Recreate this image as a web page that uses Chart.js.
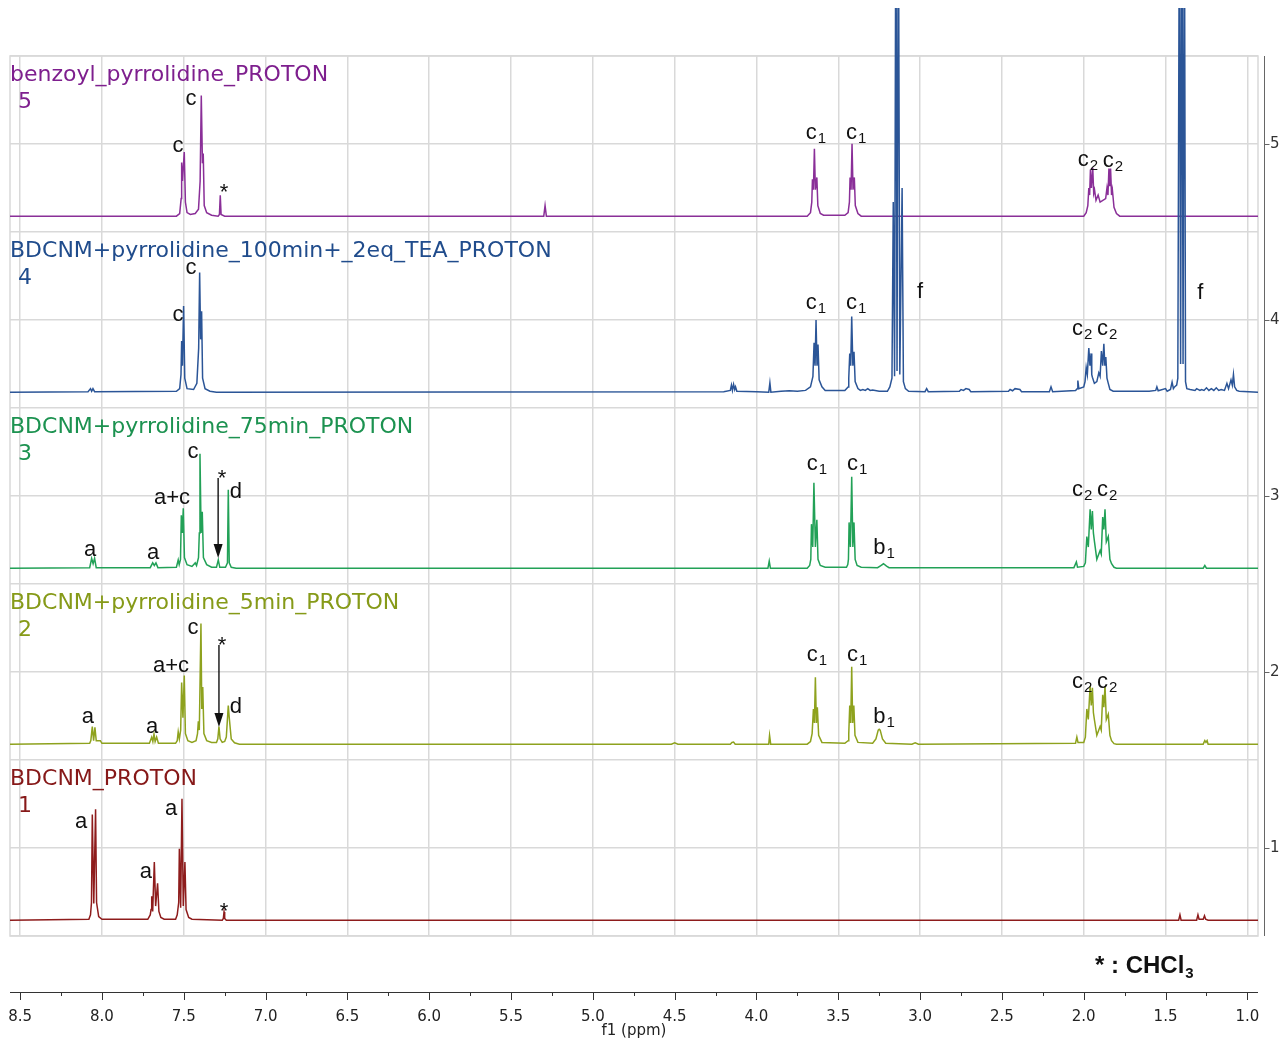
<!DOCTYPE html>
<html>
<head>
<meta charset="utf-8">
<script src="https://cdn.jsdelivr.net/npm/chart.js@4.4.1/dist/chart.umd.min.js"></script>
<style>
  html, body { margin: 0; padding: 0; background: #fff; }
  #wrap { width: 1285px; height: 1040px; }
</style>
</head>
<body>
<div id="wrap"><canvas id="nmr" width="1285" height="1040"></canvas></div>
<script>
// spectrum traces: [ppm, intensity above the spectrum's own baseline]
const spec1 = [[8.562,0],[8.080,0.005],[8.070,0.03],[8.064,0.1],[8.059,0.6],[8.050,0.095],[8.039,0.63],[8.033,0.1],[8.020,0.02],[8.000,0.005],
  [7.720,0.005],[7.705,0.03],[7.700,0.06],[7.696,0.136],[7.690,0.05],[7.680,0.33],[7.672,0.08],[7.660,0.21],[7.652,0.05],[7.640,0.015],[7.620,0.005],
  [7.550,0.005],[7.540,0.03],[7.531,0.1],[7.527,0.405],[7.519,0.07],[7.511,0.69],[7.503,0.08],[7.493,0.33],[7.486,0.06],[7.470,0.015],[7.450,0.005],
  [7.265,0],[7.258,0.01],[7.254,0.047],[7.250,0.01],[7.240,0],
  [1.420,0],[1.412,0.03],[1.405,0],[1.310,0],[1.302,0.03],[1.295,0.005],[1.270,0.005],[1.262,0.025],[1.255,0.005],[1.240,0],[0.935,0]];

const spec2 = [[8.562,0],[8.075,0.005],[8.068,0.02],[8.059,0.1],[8.051,0.02],[8.043,0.095],[8.035,0.02],[8.010,0.02],[8.000,0.005],
  [7.710,0.005],[7.696,0.04],[7.689,0.015],[7.682,0.057],[7.675,0.015],[7.666,0.04],[7.655,0.005],
  [7.550,0.005],[7.540,0.02],[7.534,0.07],[7.527,0.03],[7.519,0.08],[7.513,0.35],[7.505,0.15],[7.497,0.39],[7.490,0.06],[7.475,0.02],[7.450,0.01],
  [7.425,0.02],[7.416,0.06],[7.411,0.13],[7.405,0.08],[7.395,0.686],[7.390,0.2],[7.384,0.325],[7.377,0.06],[7.360,0.02],[7.330,0.01],[7.300,0.01],
  [7.292,0.03],[7.285,0.1],[7.278,0.03],[7.265,0.01],[7.250,0.015],[7.240,0.04],[7.232,0.16],[7.228,0.22],[7.222,0.15],[7.210,0.03],[7.190,0.008],[7.160,0],
  [4.520,0],[4.500,0.008],[4.480,0],[4.160,0],[4.150,0.01],[4.140,0.012],[4.130,0],[3.925,0],[3.920,0.05],[3.913,0],
  [3.690,0],[3.670,0.015],[3.660,0.06],[3.652,0.2],[3.646,0.12],[3.640,0.38],[3.634,0.12],[3.628,0.21],[3.620,0.05],[3.600,0.01],
  [3.460,0.005],[3.440,0.02],[3.436,0.06],[3.430,0.22],[3.424,0.12],[3.418,0.44],[3.412,0.12],[3.405,0.22],[3.398,0.05],[3.380,0.01],
  [3.290,0.005],[3.270,0.03],[3.256,0.08],[3.250,0.085],[3.244,0.08],[3.230,0.03],[3.210,0.005],
  [3.050,0],[3.030,0.008],[3.010,0],
  [2.050,0.005],[2.042,0.04],[2.035,0.01],[2.000,0.01],[1.990,0.04],[1.981,0.2],[1.972,0.14],[1.961,0.33],[1.954,0.22],[1.947,0.32],[1.941,0.18],
  [1.935,0.14],[1.920,0.05],[1.900,0.1],[1.893,0.08],[1.884,0.28],[1.877,0.21],[1.870,0.33],[1.862,0.14],[1.850,0.17],[1.840,0.05],[1.830,0.02],
  [1.815,0.003],[1.800,0],[1.270,0],[1.260,0.02],[1.253,0.01],[1.246,0.02],[1.240,0],[0.935,0]];

const spec3 = [[8.562,0],[8.075,0.003],[8.063,0.055],[8.054,0.025],[8.045,0.055],[8.035,0.003],
  [7.705,0.003],[7.690,0.03],[7.680,0.015],[7.670,0.03],[7.658,0.003],
  [7.545,0.005],[7.534,0.047],[7.528,0.02],[7.520,0.05],[7.515,0.30],[7.509,0.2],[7.503,0.34],[7.496,0.06],[7.480,0.02],[7.450,0.01],
  [7.430,0.03],[7.422,0.015],[7.410,0.06],[7.405,0.2],[7.401,0.65],[7.394,0.2],[7.387,0.32],[7.380,0.06],[7.360,0.02],[7.330,0.005],
  [7.300,0.005],[7.289,0.047],[7.280,0.005],[7.245,0.005],[7.233,0.03],[7.228,0.445],[7.222,0.03],[7.210,0.005],[7.180,0],
  [3.930,0],[3.922,0.04],[3.915,0],
  [3.690,0],[3.675,0.015],[3.668,0.05],[3.664,0.25],[3.656,0.12],[3.649,0.485],[3.640,0.12],[3.631,0.275],[3.624,0.05],[3.610,0.015],[3.580,0.005],
  [3.450,0.005],[3.442,0.02],[3.438,0.05],[3.434,0.26],[3.426,0.12],[3.418,0.52],[3.411,0.12],[3.404,0.26],[3.397,0.05],[3.385,0.015],[3.360,0.005],
  [3.260,0.003],[3.240,0.015],[3.224,0.025],[3.205,0.012],[3.190,0.003],
  [2.060,0.003],[2.045,0.035],[2.038,0.005],[2.000,0.01],[1.990,0.03],[1.981,0.18],[1.972,0.12],[1.961,0.335],[1.954,0.22],[1.947,0.325],
  [1.941,0.2],[1.935,0.155],[1.920,0.05],[1.900,0.1],[1.893,0.08],[1.884,0.29],[1.877,0.22],[1.870,0.335],[1.862,0.15],[1.850,0.18],
  [1.840,0.05],[1.830,0.025],[1.815,0.005],[1.800,0],[1.270,0],[1.260,0.015],[1.250,0],[0.935,0]];

const spec4 = [[8.562,0],[8.085,0.003],[8.070,0.02],[8.063,0.005],[8.055,0.02],[8.045,0.003],
  [7.545,0.005],[7.525,0.02],[7.517,0.1],[7.513,0.29],[7.508,0.15],[7.501,0.49],[7.494,0.08],[7.480,0.02],[7.440,0.015],
  [7.420,0.05],[7.409,0.25],[7.403,0.68],[7.397,0.3],[7.391,0.46],[7.385,0.08],[7.370,0.02],[7.340,0.005],[7.300,0],
  [4.200,0.003],[4.160,0.01],[4.153,0.04],[4.147,0.01],[4.140,0.044],[4.133,0.015],[4.128,0.03],[4.120,0.005],[4.000,0.003],
  [3.925,0],[3.918,0.053],[3.912,0],[3.850,0.005],[3.800,0.008],[3.750,0.005],[3.700,0.01],[3.670,0.03],
  [3.655,0.09],[3.648,0.28],[3.642,0.15],[3.636,0.41],[3.630,0.15],[3.624,0.27],[3.617,0.07],[3.600,0.03],[3.580,0.01],
  [3.460,0.01],[3.440,0.03],[3.436,0.08],[3.430,0.22],[3.424,0.15],[3.418,0.43],[3.411,0.15],[3.404,0.23],[3.397,0.06],[3.380,0.02],
  [3.365,0.01],[3.350,0.015],[3.335,0.01],[3.320,0.02],[3.305,0.01],[3.290,0.012],[3.250,0.005],
  [3.200,0.005],[3.185,0.03],[3.172,0.08],[3.164,1.08],[3.156,0.09],[3.148,3.0],[3.141,0.12],[3.133,3.0],[3.124,0.1],[3.110,1.16],
  [3.102,0.06],[3.090,0.02],[3.070,0.005],
  [2.970,0.003],[2.960,0.02],[2.950,0.003],[2.760,0.005],[2.750,0.015],[2.735,0.01],[2.720,0.02],[2.700,0.015],[2.690,0.003],
  [2.460,0.005],[2.450,0.015],[2.435,0.008],[2.420,0.02],[2.390,0.015],[2.380,0.003],[2.210,0.003],[2.200,0.03],[2.190,0.003],
  [2.050,0.01],[2.040,0.02],[2.036,0.066],[2.030,0.02],[2.000,0.03],[1.992,0.06],[1.985,0.14],[1.978,0.1],[1.969,0.25],[1.962,0.15],
  [1.955,0.22],[1.951,0.1],[1.947,0.085],[1.935,0.05],[1.920,0.06],[1.908,0.11],[1.900,0.09],[1.892,0.233],[1.884,0.15],[1.877,0.275],
  [1.871,0.15],[1.865,0.2],[1.858,0.08],[1.850,0.05],[1.840,0.015],[1.820,0.005],
  [1.600,0.005],[1.560,0.01],[1.553,0.03],[1.545,0.008],[1.500,0.02],[1.490,0.005],[1.470,0.015],[1.460,0.057],[1.452,0.02],
  [1.445,0.03],[1.432,0.04],[1.425,0.08],[1.415,3.0],[1.408,0.16],[1.400,3.0],[1.393,0.16],[1.385,3.0],[1.378,0.06],[1.370,0.02],
  [1.350,0.015],[1.320,0.01],[1.310,0.02],[1.290,0.01],[1.280,0.015],[1.265,0.01],[1.250,0.025],[1.235,0.01],[1.220,0.02],
  [1.205,0.01],[1.190,0.025],[1.175,0.01],[1.160,0.015],[1.140,0.01],[1.125,0.05],[1.115,0.02],[1.100,0.07],[1.092,0.04],
  [1.085,0.1],[1.078,0.03],[1.065,0.01],[1.050,0.005],[0.935,0]];

const spec5 = [[8.562,0],[7.545,0],[7.525,0.015],[7.516,0.1],[7.513,0.305],[7.508,0.2],[7.497,0.364],[7.490,0.08],[7.480,0.02],
  [7.460,0.01],[7.430,0.015],[7.410,0.04],[7.400,0.2],[7.393,0.686],[7.386,0.3],[7.381,0.356],[7.375,0.06],[7.360,0.02],[7.330,0.005],
  [7.290,0],[7.282,0.01],[7.277,0.118],[7.272,0.01],[7.250,0],[5.300,0],[5.292,0.06],[5.284,0],
  [3.690,0],[3.670,0.02],[3.662,0.08],[3.658,0.21],[3.652,0.15],[3.646,0.383],[3.640,0.15],[3.631,0.22],[3.625,0.06],[3.610,0.015],[3.590,0.005],
  [3.460,0.005],[3.440,0.02],[3.432,0.08],[3.428,0.22],[3.422,0.15],[3.416,0.411],[3.410,0.15],[3.402,0.22],[3.396,0.06],[3.380,0.015],[3.360,0],
  [2.000,0],[1.985,0.02],[1.975,0.06],[1.969,0.16],[1.964,0.12],[1.959,0.265],[1.953,0.16],[1.945,0.275],[1.939,0.13],[1.934,0.15],
  [1.925,0.09],[1.912,0.12],[1.900,0.08],[1.866,0.1],[1.858,0.16],[1.852,0.12],[1.846,0.27],[1.841,0.17],[1.836,0.27],[1.830,0.12],
  [1.825,0.15],[1.815,0.05],[1.800,0.015],[1.780,0],[0.935,0]];

const spectra = [spec1, spec2, spec3, spec4, spec5];
const specNames = ['BDCNM_PROTON', 'BDCNM+pyrrolidine_5min_PROTON', 'BDCNM+pyrrolidine_75min_PROTON',
  'BDCNM+pyrrolidine_100min+_2eq_TEA_PROTON', 'benzoyl_pyrrolidine_PROTON'];
const baselines = [0.59, 1.59, 2.59, 3.59, 4.59];
const lineColors = ['#8e1c1c', '#8ea21e', '#22a157', '#2b5597', '#8a2f98'];
const textColors = ['#861818', '#869a18', '#1c9250', '#204c8c', '#7e1f8e'];

// peak assignments: [text, subscript, ppm, intensity axis value]
const peakLabels = [
  ['c', '', 7.535, 4.989], ['c', '', 7.456, 5.256], ['*', '', 7.254, 4.756],
  ['c', '1', 3.636, 5.063], ['c', '1', 3.391, 5.063], ['c', '2', 1.974, 4.909], ['c', '2', 1.822, 4.903],
  ['c', '', 7.535, 4.028], ['c', '', 7.456, 4.295], ['c', '1', 3.636, 4.097], ['c', '1', 3.391, 4.097],
  ['f', '', 3.000, 4.159], ['f', '', 1.288, 4.153], ['c', '2', 2.010, 3.949], ['c', '2', 1.857, 3.949],
  ['a', '', 8.073, 2.693], ['a', '', 7.688, 2.676], ['a+c', '', 7.572, 2.989], ['c', '', 7.444, 3.25],
  ['*', '', 7.266, 3.131], ['d', '', 7.181, 3.023], ['c', '1', 3.630, 3.182], ['c', '1', 3.385, 3.182],
  ['b', '1', 3.220, 2.705], ['c', '2', 2.010, 3.034], ['c', '2', 1.857, 3.034],
  ['a', '', 8.086, 1.744], ['a', '', 7.694, 1.688], ['a+c', '', 7.578, 2.034], ['c', '', 7.444, 2.25],
  ['*', '', 7.266, 2.182], ['d', '', 7.181, 1.801], ['c', '1', 3.630, 2.097], ['c', '1', 3.385, 2.097],
  ['b', '1', 3.220, 1.744], ['c', '2', 2.010, 1.943], ['c', '2', 1.857, 1.943],
  ['a', '', 8.128, 1.148], ['a', '', 7.731, 0.864], ['a', '', 7.578, 1.222], ['*', '', 7.254, 0.670]
];
// arrows pointing at the CHCl3 line: [ppm, from, to]
const arrows = [[7.290, 3.102, 2.648], [7.285, 2.153, 1.688]];

const overlay = {
  id: 'overlay',
  beforeDatasetsDraw(chart) {
    const {ctx, chartArea: a} = chart;
    ctx.save();
    ctx.strokeStyle = '#d9d9d9';
    ctx.lineWidth = 1.5;
    ctx.strokeRect(a.left, a.top, a.right - a.left, a.bottom - a.top);
    ctx.restore();
  },
  afterDraw(chart) {
    const {ctx, chartArea: a} = chart;
    const xs = chart.scales.x, ys = chart.scales.y;
    const px = v => xs.getPixelForValue(v), py = v => ys.getPixelForValue(v);
    ctx.save();

    // spectrum names and numbers
    ctx.textAlign = 'left';
    ctx.textBaseline = 'middle';
    ctx.font = '22px "DejaVu Sans", Verdana, sans-serif';
    specNames.forEach((name, i) => {
      const n = i + 1;
      ctx.fillStyle = textColors[i];
      ctx.fillText(name, a.left, py(n + 0.392));
      ctx.fillText(String(n), a.left + 8, py(n + 0.236));
    });

    // peak labels
    ctx.fillStyle = '#111';
    ctx.textBaseline = 'alphabetic';
    const mainFont = '22px "Liberation Sans", Arial, sans-serif';
    const subFont = '15px "Liberation Sans", Arial, sans-serif';
    peakLabels.forEach(([t, sub, ppm, val]) => {
      ctx.font = mainFont;
      const w1 = ctx.measureText(t).width;
      ctx.font = subFont;
      const w2 = sub ? ctx.measureText(sub).width + 1 : 0;
      const x0 = px(ppm) - (w1 + w2) / 2;
      const yc = py(val);
      const base = t === '*' ? yc + 12 : yc + 6;
      ctx.font = mainFont;
      ctx.fillText(t, x0, base);
      if (sub) {
        ctx.font = subFont;
        ctx.fillText(sub, x0 + w1 + 1, base + 4);
      }
    });

    // arrows
    ctx.strokeStyle = '#111';
    ctx.lineWidth = 1.4;
    arrows.forEach(([ppm, from, to]) => {
      const x = px(ppm), y1 = py(from), y2 = py(to);
      ctx.beginPath();
      ctx.moveTo(x, y1);
      ctx.lineTo(x, y2 - 10);
      ctx.stroke();
      ctx.beginPath();
      ctx.moveTo(x, y2);
      ctx.lineTo(x - 4.5, y2 - 14);
      ctx.lineTo(x + 4.5, y2 - 14);
      ctx.closePath();
      ctx.fill();
    });

    // detached ppm axis
    const yAxis = a.bottom + 56;
    ctx.strokeStyle = '#333';
    ctx.lineWidth = 1;
    ctx.beginPath();
    ctx.moveTo(a.left, yAxis + 0.5);
    ctx.lineTo(a.right, yAxis + 0.5);
    xs.ticks.forEach(t => {
      const x = Math.round(px(t.value)) + 0.5;
      ctx.moveTo(x, yAxis);
      ctx.lineTo(x, yAxis + 8);
      const m = t.value + 0.25;
      if (m < xs.max) {
        const xm = Math.round(px(m)) + 0.5;
        ctx.moveTo(xm, yAxis);
        ctx.lineTo(xm, yAxis + 4);
      }
    });
    ctx.stroke();

    // right intensity axis line
    const xr = a.right + 6.5;
    ctx.strokeStyle = '#666';
    ctx.beginPath();
    ctx.moveTo(xr, a.top);
    ctx.lineTo(xr, a.bottom);
    ys.ticks.forEach(t => {
      if (Number.isInteger(t.value)) {
        const y = Math.round(py(t.value)) + 0.5;
        ctx.moveTo(xr, y);
        ctx.lineTo(xr + 5, y);
      }
    });
    ctx.stroke();

    // solvent note
    ctx.fillStyle = '#111';
    ctx.font = 'bold 24px "Liberation Sans", Arial, sans-serif';
    const nx = a.right - 163, ny = a.bottom + 37;
    const note = '* : CHCl';
    ctx.fillText(note, nx, ny);
    const nw = ctx.measureText(note).width;
    ctx.font = 'bold 15px "Liberation Sans", Arial, sans-serif';
    ctx.fillText('3', nx + nw + 1, ny + 5);
    ctx.restore();
  }
};

const datasets = spectra.map((s, i) => ({
  label: specNames[i],
  data: s.map(([p, v]) => ({x: p, y: baselines[i] + v})),
  showLine: true,
  borderColor: lineColors[i],
  borderWidth: 1.5,
  pointRadius: 0,
  tension: 0,
  clip: {left: 0, top: 48, right: 0, bottom: 0}
}));

new Chart(document.getElementById('nmr'), {
  type: 'scatter',
  data: { datasets },
  options: {
    responsive: false,
    animation: false,
    devicePixelRatio: 1,
    layout: { padding: { left: 10, top: 56, right: 0, bottom: 0 } },
    plugins: { legend: { display: false }, tooltip: { enabled: false } },
    scales: {
      x: {
        type: 'linear', reverse: true, min: 0.935, max: 8.562,
        ticks: {
          stepSize: 0.5, includeBounds: false, padding: 0, maxRotation: 0, autoSkip: false,
          color: '#222', font: { family: 'DejaVu Sans', size: 15 },
          callback: v => v.toFixed(1)
        },
        grid: { color: '#d9d9d9', lineWidth: 1.5, drawTicks: true, tickLength: 72, tickColor: 'rgba(0,0,0,0)' },
        border: { display: false },
        title: { display: true, text: 'f1 (ppm)', color: '#222', font: { family: 'DejaVu Sans', size: 15 }, padding: 0 },
        afterFit: s => { s.height = 104; s.paddingLeft = 0; s.paddingRight = 0; }
      },
      y: {
        type: 'linear', position: 'right', min: 0.5, max: 5.5,
        ticks: {
          stepSize: 0.5, padding: 12, color: '#333', font: { family: 'DejaVu Sans', size: 15 },
          callback: v => Number.isInteger(v) ? String(v) : ''
        },
        grid: { color: '#d9d9d9', lineWidth: 1.5, drawTicks: false },
        border: { display: false },
        afterFit: s => { s.width = 27; s.paddingTop = 0; s.paddingBottom = 0; }
      }
    }
  },
  plugins: [overlay]
});
</script>
</body>
</html>
